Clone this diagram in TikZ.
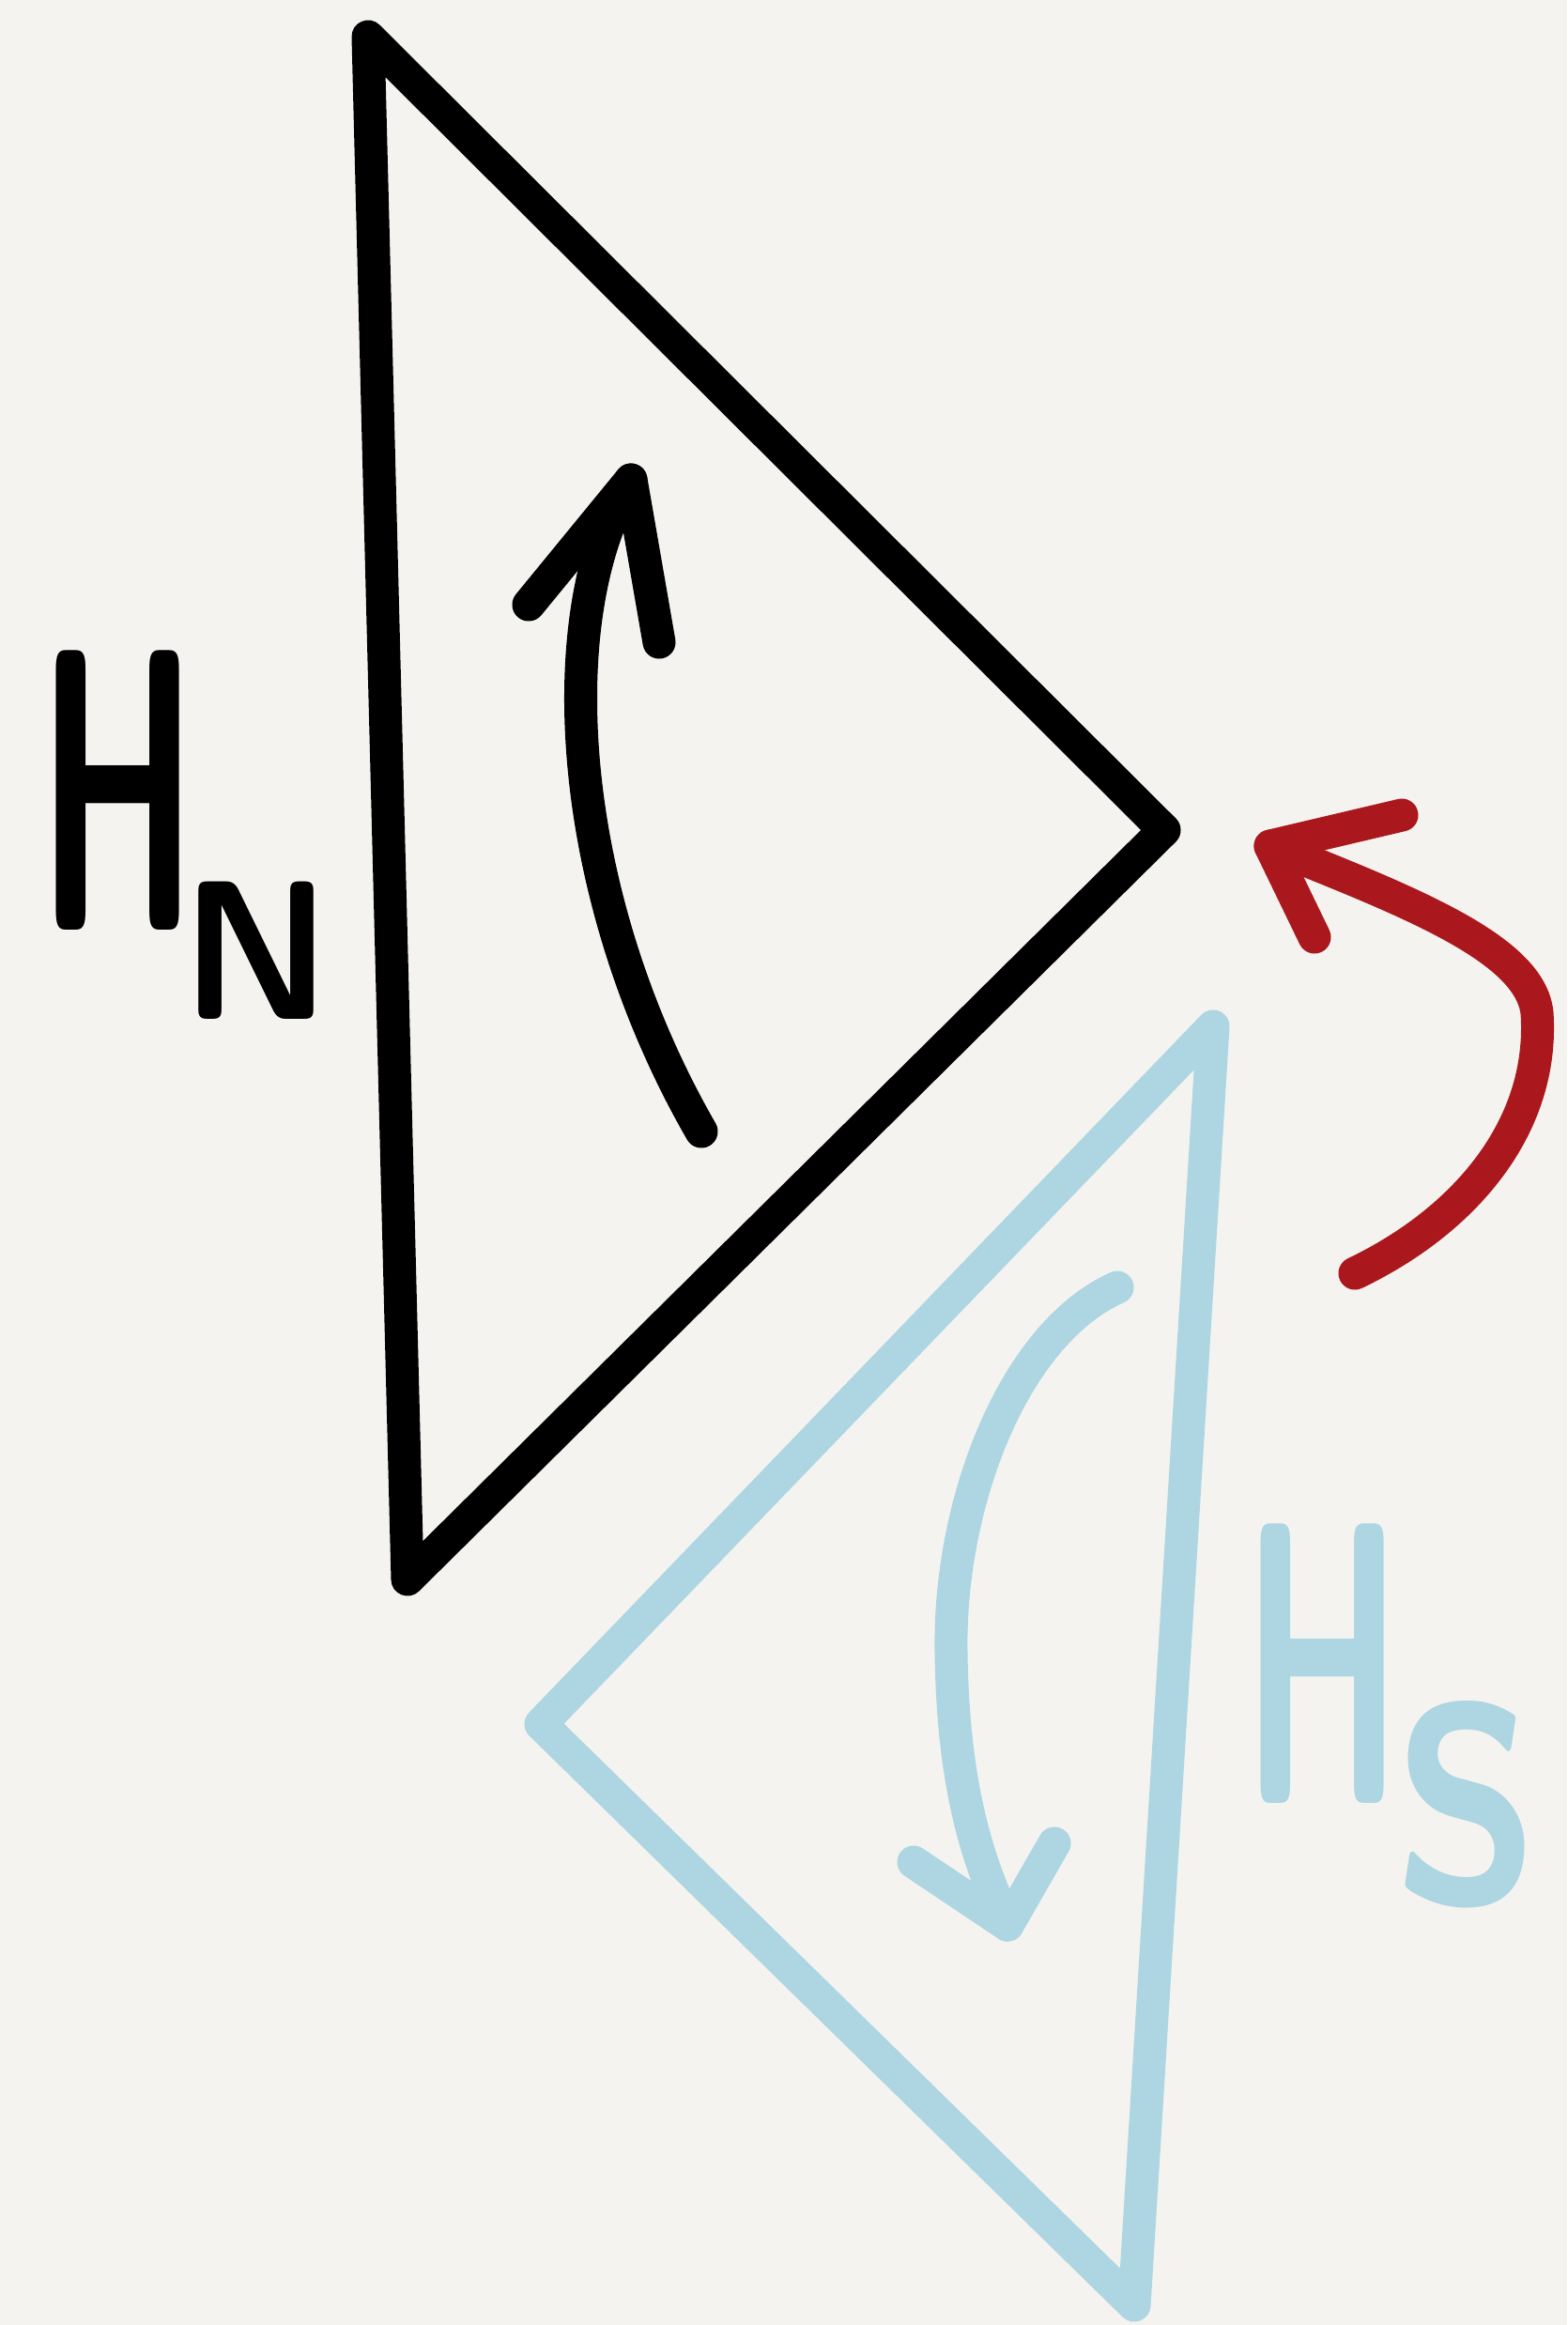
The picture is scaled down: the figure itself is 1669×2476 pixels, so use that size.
\documentclass[tikz,border=0pt]{standalone}
\usepackage{tikz}
\usetikzlibrary{calc}
\definecolor{paperbg}{RGB}{244,243,239}
\definecolor{sketchred}{RGB}{170,24,30}
\definecolor{sketchblue}{RGB}{173,214,226}
\newcommand{\bigH}{\scalebox{0.5}[1]{\fontsize{122}{122}\selectfont H}}

\begin{document}
\begin{tikzpicture}[x=0.01cm, y=-0.01cm,
    pen/.style={line width=0.35cm, line cap=round, line join=round},
    lbl/.style={inner sep=0pt, anchor=base west, font=\sffamily\bfseries}
  ]

  % paper
  \fill[paperbg] (0,0) rectangle (1669,2476);
  \useasboundingbox (0,0) rectangle (1669,2476);

  % North triangle
  \coordinate (n1) at (392,39);
  \coordinate (n2) at (1240,884);
  \coordinate (n3) at (434,1682);
  \draw[pen, black] (n1) -- (n2) -- (n3) -- cycle;

  % North rotation
  \coordinate (na0) at (747,1205);
  \coordinate (na1) at (672,511);
  \coordinate (nh1) at (563,644);
  \coordinate (nh2) at (702,684);
  \draw[pen] (na0) .. controls (600,950) and (585,650) .. (na1);
  \draw[pen] (nh1) -- (na1) -- (nh2);

  % South triangle
  \coordinate (s1) at (1292,1093);
  \coordinate (s2) at (576,1836);
  \coordinate (s3) at (1208,2455);
  \draw[pen, sketchblue] (s1) -- (s2) -- (s3) -- cycle;

  % South rotation
  \coordinate (sa0) at (1190,1371);
  \coordinate (sa1) at (1073,2050);
  \coordinate (sh1) at (973,1983);
  \coordinate (sh2) at (1123,1963);
  \draw[pen, sketchblue] (sa0) .. controls (1080,1420) and (1010,1600) .. (1013,1760)
    .. controls (1015,1900) and (1040,1980) .. (sa1);
  \draw[pen, sketchblue] (sh1) -- (sa1) -- (sh2);

  % flip arrow
  \coordinate (ra0) at (1443,1356);
  \coordinate (ra1) at (1353,901);
  \coordinate (rh1) at (1493,868);
  \coordinate (rh2) at (1400,998);
  \draw[pen, sketchred] (ra0) .. controls (1560,1300) and (1645,1200) .. (1637,1079)
    .. controls (1630,1010) and (1500,960) .. (ra1);
  \draw[pen, sketchred] (rh1) -- (ra1) -- (rh2);

  % Labels
  \node[lbl] (hn) at (40,990)
    {\bigH\hspace{-0.18cm}\raisebox{-0.95cm}{\scalebox{0.95}[1]{\fontsize{60}{60}\selectfont N}}};
  \node[lbl, text=sketchblue] (hs) at (1323,1920)
    {\bigH\hspace{-0.1cm}\raisebox{-1.05cm}{\scalebox{0.85}[1]{\fontsize{85}{85}\selectfont S}}};

\end{tikzpicture}
\end{document}
